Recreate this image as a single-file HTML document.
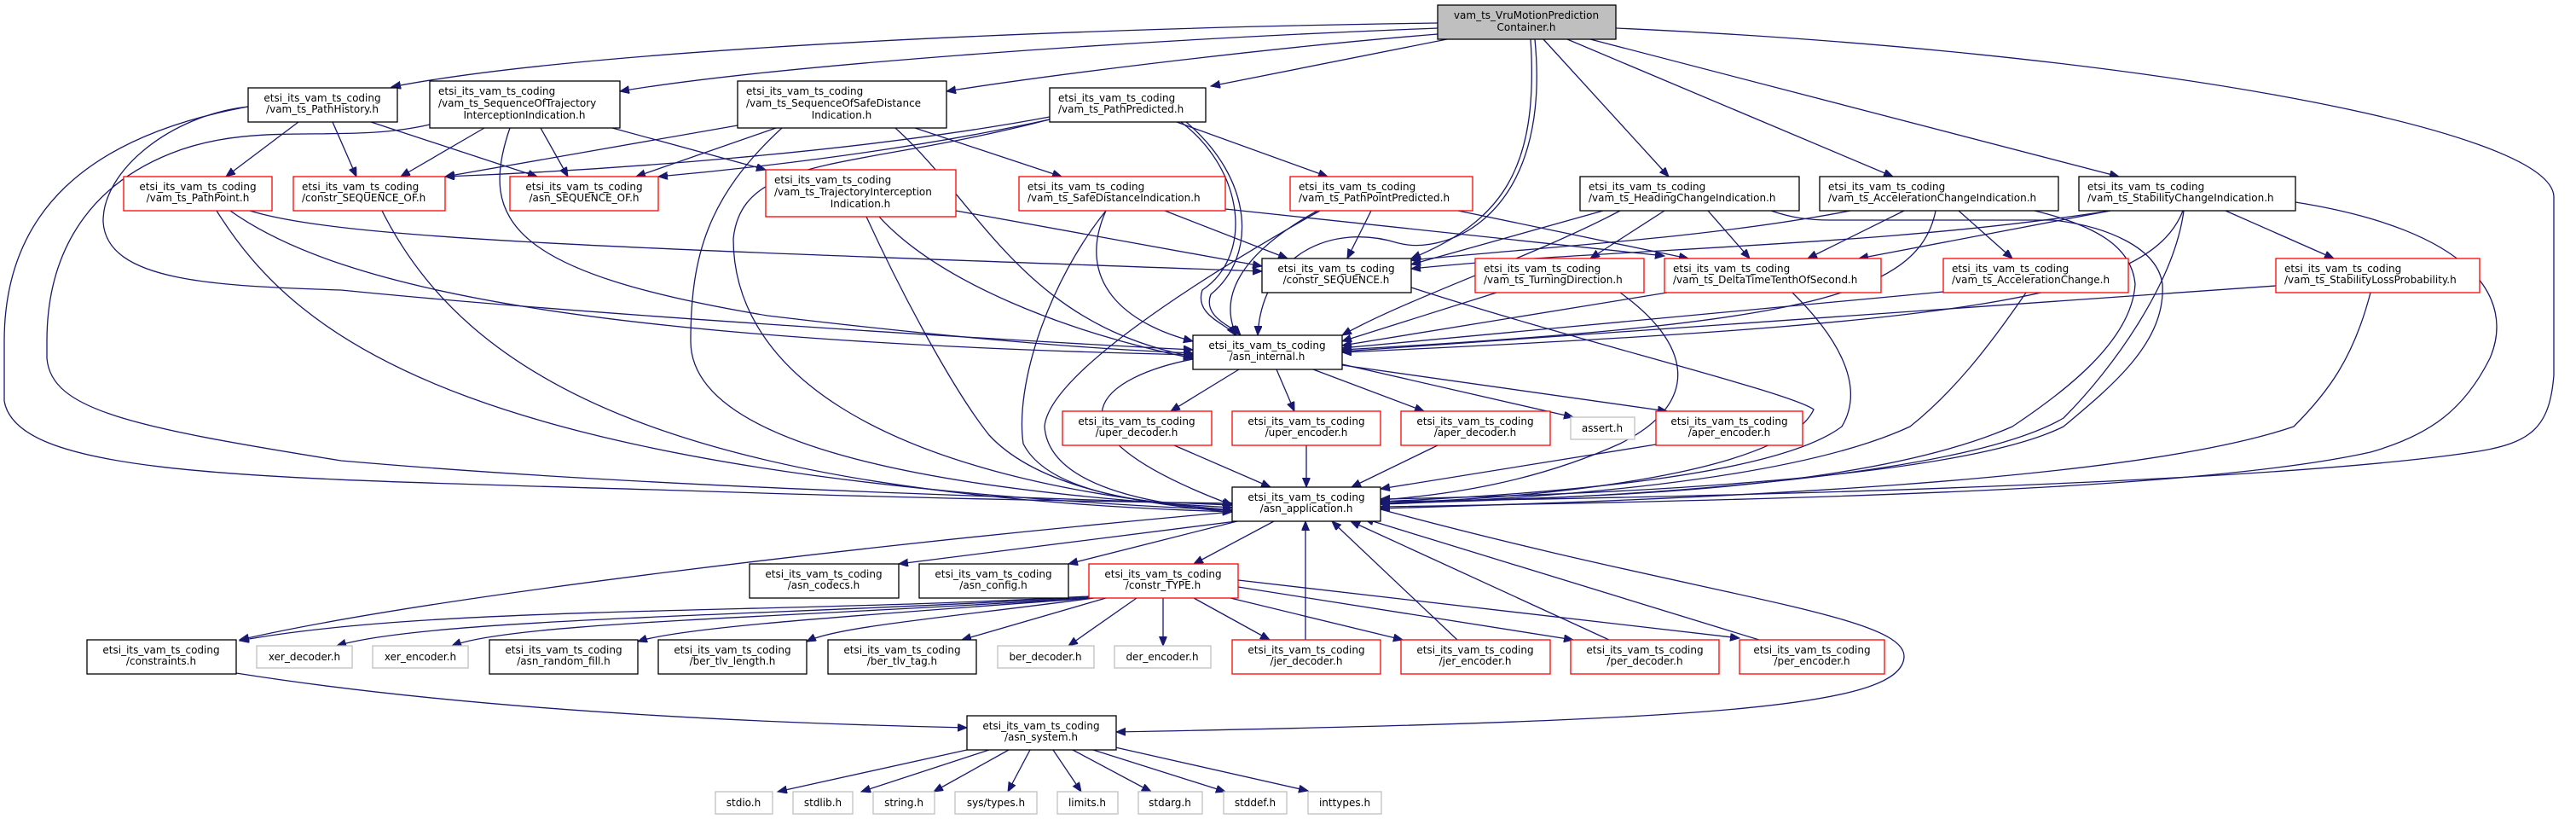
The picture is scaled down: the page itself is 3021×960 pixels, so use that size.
<!DOCTYPE html>
<html><head><meta charset="utf-8"><style>
html,body{margin:0;padding:0;background:#fff}
svg{display:block}
text{font-family:"DejaVu Sans","Liberation Sans",sans-serif;font-size:12px;fill:#000}
.e{fill:none;stroke:#191970;stroke-width:1.3}
.b{fill:#fff;stroke:#000;stroke-width:1.3}
.r{fill:#fff;stroke:#ff0000;stroke-width:1.3}
.g{fill:#fff;stroke:#bfbfbf;stroke-width:1.3}
</style></head><body>
<svg width="3021" height="960" viewBox="0 0 3021 960" xmlns="http://www.w3.org/2000/svg">
<defs><marker id="a" markerWidth="12" markerHeight="10" refX="11" refY="4.5" orient="auto" markerUnits="userSpaceOnUse"><path d="M0,0 L11,4.5 L0,9 z" fill="#191970" stroke="#191970"/></marker></defs>
<g class="e" marker-end="url(#a)">
<!-- root -->
<path d="M1686,27 C1300,32 700,55 459,102"/>
<path d="M1686,33 C1300,48 900,78 727,107"/>
<path d="M1686,40 C1500,55 1250,85 1110,107"/>
<path d="M1697,46 L1420,101"/>
<path d="M1795,46 C1805,200 1760,260 1655,303"/>
<path d="M1800,46 C1820,250 1700,300 1640,285 C1560,260 1480,300 1475,393"/>
<path d="M1810,46 L1957,207"/>
<path d="M1838,46 L2220,207"/>
<path d="M1865,46 L2485,207"/>
<path d="M1895,33 C2500,60 2990,150 2995,230 L2995,440 C2990,500 2970,520 2900,530 C2700,560 2200,580 1619,588"/>
<!-- PathHistory -->
<path d="M350,143 L265,207"/>
<path d="M390,143 L418,207"/>
<path d="M435,143 L630,207"/>
<path d="M291,125 C200,135 120,200 121,260 C125,330 250,335 400,340 C700,370 1200,400 1399,410"/>
<path d="M291,125 C100,160 5,250 5,400 L5,470 C20,560 300,560 800,575 C1100,585 1300,588 1445,590"/>
<!-- SeqOfTraj -->
<path d="M568,150 L470,207"/>
<path d="M634,150 L666,207"/>
<path d="M718,150 L898,199"/>
<path d="M598,150 C560,260 600,320 900,370 C1150,400 1300,410 1399,414"/>
<path d="M504,146 C400,170 300,140 200,180 C100,220 55,300 55,400 L55,420 C60,480 150,500 400,540 C800,575 1300,585 1445,592"/>
<!-- SeqOfSafe -->
<path d="M865,147 L522,207"/>
<path d="M910,150 L746,207"/>
<path d="M1073,150 L1245,207"/>
<path d="M1050,150 C1150,240 1200,380 1399,418"/>
<path d="M917,150 C830,230 810,300 810,400 C810,500 1000,570 1445,595"/>
<!-- PathPredicted -->
<path d="M1231,137 C1000,180 700,200 522,207"/>
<path d="M1231,140 C1050,180 850,200 772,207"/>
<path d="M1380,143 L1557,207"/>
<path d="M1385,143 C1460,200 1470,300 1410,340 C1400,370 1440,380 1449,393"/>
<path d="M1391,143 C1470,210 1475,300 1420,345 C1410,372 1445,382 1455,393"/>
<path d="M1231,140 C1000,200 870,180 860,280 C860,420 1000,560 1445,598"/>
<!-- TrajInterception -->
<path d="M1121,247 L1480,312"/>
<path d="M1031,254 C1100,330 1250,390 1399,420"/>
<path d="M1016,254 C1060,350 1120,460 1160,510 C1220,575 1350,592 1445,600"/>
<!-- PathPoint -->
<path d="M293,247 C400,280 700,290 1480,318"/>
<path d="M270,247 C400,340 700,400 1399,416"/>
<path d="M254,247 C350,400 550,560 1445,598"/>
<!-- constr_SEQUENCE_OF -->
<path d="M448,247 C550,450 800,580 1445,600"/>
<!-- SafeDistance -->
<path d="M1366,247 L1510,303"/>
<path d="M1297,247 C1260,330 1320,380 1399,400"/>
<path d="M1297,247 C1230,330 1190,450 1200,520 C1230,580 1350,590 1445,598"/>
<path d="M1437,245 L1952,300"/>
<!-- PathPointPredicted -->
<path d="M1608,247 L1580,303"/>
<path d="M1545,247 C1450,300 1430,350 1450,393"/>
<path d="M1710,247 L1980,303"/>
<path d="M1548,247 C1400,330 1230,440 1225,500 C1230,570 1350,592 1445,598"/>
<!-- Heading -->
<path d="M1880,247 L1655,310"/>
<path d="M1952,247 L1865,303"/>
<path d="M2003,247 L2052,303"/>
<path d="M1900,247 C1800,300 1650,350 1574,393"/>
<path d="M2077,247 C2100,255 2120,258 2147,258 L2408,258 C2470,265 2530,290 2536,333 C2540,400 2480,450 2420,500 C2300,560 1900,580 1619,585"/>
<!-- AccelCI -->
<path d="M2170,247 C2000,280 1800,290 1655,305"/>
<path d="M2233,247 L2120,303"/>
<path d="M2297,247 L2360,303"/>
<path d="M2270,247 C2250,350 2100,380 1574,410"/>
<path d="M2386,247 C2460,265 2500,290 2504,333 C2500,400 2420,460 2360,500 C2200,570 1900,585 1619,588"/>
<!-- StabilityCI -->
<path d="M2475,247 C2200,290 1900,290 1655,315"/>
<path d="M2475,247 L2180,303"/>
<path d="M2610,247 L2737,303"/>
<path d="M2560,247 C2520,350 2300,380 1574,413"/>
<path d="M2561,247 C2550,330 2480,430 2420,490 C2300,560 1900,585 1619,590"/>
<path d="M2692,237 C2900,270 2950,350 2920,420 C2890,480 2850,510 2780,530 C2600,570 2200,585 1619,594"/>
<!-- row3 -->
<path d="M1655,337 C1850,400 2100,460 2127,480 C2100,540 1900,580 1619,590"/>
<path d="M1755,343 L1574,400"/>
<path d="M1900,343 C1980,400 2000,470 1900,520 C1800,565 1700,580 1619,586"/>
<path d="M1955,343 L1574,405"/>
<path d="M2102,343 C2150,390 2190,450 2160,500 C2080,560 1800,580 1619,588"/>
<path d="M2279,342 L1574,408"/>
<path d="M2376,343 C2330,410 2290,460 2240,500 C2100,565 1800,585 1619,591"/>
<path d="M2669,335 L1574,412"/>
<path d="M2780,343 C2760,420 2730,460 2690,500 C2500,565 2000,585 1619,596"/>
<!-- asn_internal -->
<path d="M1453,433 L1373,482"/>
<path d="M1497,433 L1518,482"/>
<path d="M1540,433 L1670,482"/>
<path d="M1574,427 L1845,489"/>
<path d="M1574,428 L1955,482"/>
<path d="M1399,421 C1300,440 1200,500 1445,592"/>
<!-- row4 to app -->
<path d="M1377,522 L1490,571"/>
<path d="M1532,522 L1532,571"/>
<path d="M1686,522 L1585,571"/>
<path d="M1942,521 L1619,573"/>
<!-- asn_application -->
<path d="M1445,600 C1000,640 500,700 281,750"/>
<path d="M1450,611 L1054,661"/>
<path d="M1451,611 L1253,661"/>
<path d="M1494,611 L1400,661"/>
<path d="M1619,597 C2000,700 2235,720 2233,770 C2230,830 2000,845 1309,858"/>
<!-- constr_TYPE -->
<path d="M1277,699 C900,720 500,710 281,751"/>
<path d="M1277,700 C900,722 500,725 395,757"/>
<path d="M1277,701 C900,725 600,730 530,757"/>
<path d="M1280,701 C1000,722 800,735 748,752"/>
<path d="M1283,701 C1100,725 980,735 946,752"/>
<path d="M1297,701 L1128,750"/>
<path d="M1333,701 L1253,757"/>
<path d="M1364,701 L1364,757"/>
<path d="M1400,701 L1489,750"/>
<path d="M1443,701 L1645,750"/>
<path d="M1452,688 L1845,750"/>
<path d="M1452,680 L2040,748"/>
<path d="M1531,750 L1531,611"/>
<path d="M1709,750 L1562,611"/>
<path d="M1887,750 L1584,611"/>
<path d="M2063,750 L1600,608"/>
<!-- constraints/system -->
<path d="M277,789 C600,840 1000,850 1134,853"/>
<path d="M1134,879 L912,928"/>
<path d="M1160,879 L1010,928"/>
<path d="M1183,879 L1095,928"/>
<path d="M1208,879 L1182,928"/>
<path d="M1235,879 L1268,928"/>
<path d="M1258,879 L1350,928"/>
<path d="M1282,879 L1437,928"/>
<path d="M1308,876 L1534,927"/>
</g>
<!-- nodes -->
<rect x="1686" y="6" width="209" height="40" fill="#bfbfbf" stroke="#000" stroke-width="1.3"/>
<text x="1790" y="22" text-anchor="middle">vam_ts_VruMotionPrediction</text><text x="1790" y="36" text-anchor="middle">Container.h</text>

<rect class="b" x="291" y="103" width="175" height="40"/><text x="378" y="119" text-anchor="middle">etsi_its_vam_ts_coding</text><text x="378" y="132" text-anchor="middle">/vam_ts_PathHistory.h</text>
<rect class="b" x="504" y="95" width="223" height="55"/><text x="514" y="111">etsi_its_vam_ts_coding</text><text x="514" y="125">/vam_ts_SequenceOfTrajectory</text><text x="615" y="139" text-anchor="middle">InterceptionIndication.h</text>
<rect class="b" x="865" y="95" width="245" height="55"/><text x="875" y="111">etsi_its_vam_ts_coding</text><text x="875" y="125">/vam_ts_SequenceOfSafeDistance</text><text x="987" y="139" text-anchor="middle">Indication.h</text>
<rect class="b" x="1231" y="103" width="183" height="40"/><text x="1241" y="119">etsi_its_vam_ts_coding</text><text x="1241" y="132">/vam_ts_PathPredicted.h</text>

<rect class="r" x="145" y="207" width="174" height="40"/><text x="232" y="223" text-anchor="middle">etsi_its_vam_ts_coding</text><text x="232" y="236" text-anchor="middle">/vam_ts_PathPoint.h</text>
<rect class="r" x="344" y="207" width="178" height="40"/><text x="354" y="223">etsi_its_vam_ts_coding</text><text x="354" y="236">/constr_SEQUENCE_OF.h</text>
<rect class="r" x="598" y="207" width="174" height="40"/><text x="685" y="223" text-anchor="middle">etsi_its_vam_ts_coding</text><text x="685" y="236" text-anchor="middle">/asn_SEQUENCE_OF.h</text>
<rect class="r" x="898" y="199" width="223" height="55"/><text x="908" y="215">etsi_its_vam_ts_coding</text><text x="908" y="229">/vam_ts_TrajectoryInterception</text><text x="1009" y="243" text-anchor="middle">Indication.h</text>
<rect class="r" x="1195" y="207" width="242" height="40"/><text x="1205" y="223">etsi_its_vam_ts_coding</text><text x="1205" y="236">/vam_ts_SafeDistanceIndication.h</text>
<rect class="r" x="1513" y="207" width="214" height="40"/><text x="1523" y="223">etsi_its_vam_ts_coding</text><text x="1523" y="236">/vam_ts_PathPointPredicted.h</text>
<rect class="b" x="1853" y="207" width="257" height="40"/><text x="1863" y="223">etsi_its_vam_ts_coding</text><text x="1863" y="236">/vam_ts_HeadingChangeIndication.h</text>
<rect class="b" x="2134" y="207" width="280" height="40"/><text x="2144" y="223">etsi_its_vam_ts_coding</text><text x="2144" y="236">/vam_ts_AccelerationChangeIndication.h</text>
<rect class="b" x="2438" y="207" width="254" height="40"/><text x="2448" y="223">etsi_its_vam_ts_coding</text><text x="2448" y="236">/vam_ts_StabilityChangeIndication.h</text>

<rect class="b" x="1480" y="303" width="175" height="40"/><text x="1567" y="319" text-anchor="middle">etsi_its_vam_ts_coding</text><text x="1567" y="332" text-anchor="middle">/constr_SEQUENCE.h</text>
<rect class="r" x="1730" y="303" width="198" height="40"/><text x="1740" y="319">etsi_its_vam_ts_coding</text><text x="1740" y="332">/vam_ts_TurningDirection.h</text>
<rect class="r" x="1952" y="303" width="254" height="40"/><text x="1962" y="319">etsi_its_vam_ts_coding</text><text x="1962" y="332">/vam_ts_DeltaTimeTenthOfSecond.h</text>
<rect class="r" x="2279" y="303" width="217" height="40"/><text x="2289" y="319">etsi_its_vam_ts_coding</text><text x="2289" y="332">/vam_ts_AccelerationChange.h</text>
<rect class="r" x="2669" y="303" width="239" height="40"/><text x="2679" y="319">etsi_its_vam_ts_coding</text><text x="2679" y="332">/vam_ts_StabilityLossProbability.h</text>

<rect class="b" x="1399" y="393" width="175" height="40"/><text x="1486" y="409" text-anchor="middle">etsi_its_vam_ts_coding</text><text x="1486" y="422" text-anchor="middle">/asn_internal.h</text>

<rect class="r" x="1246" y="482" width="175" height="40"/><text x="1333" y="498" text-anchor="middle">etsi_its_vam_ts_coding</text><text x="1333" y="511" text-anchor="middle">/uper_decoder.h</text>
<rect class="r" x="1445" y="482" width="174" height="40"/><text x="1532" y="498" text-anchor="middle">etsi_its_vam_ts_coding</text><text x="1532" y="511" text-anchor="middle">/uper_encoder.h</text>
<rect class="r" x="1643" y="482" width="175" height="40"/><text x="1730" y="498" text-anchor="middle">etsi_its_vam_ts_coding</text><text x="1730" y="511" text-anchor="middle">/aper_decoder.h</text>
<rect class="g" x="1842" y="489" width="75" height="26"/><text x="1879" y="506" text-anchor="middle">assert.h</text>
<rect class="r" x="1942" y="482" width="172" height="40"/><text x="2028" y="498" text-anchor="middle">etsi_its_vam_ts_coding</text><text x="2028" y="511" text-anchor="middle">/aper_encoder.h</text>

<rect class="b" x="1445" y="571" width="174" height="40"/><text x="1532" y="587" text-anchor="middle">etsi_its_vam_ts_coding</text><text x="1532" y="600" text-anchor="middle">/asn_application.h</text>

<rect class="b" x="879" y="661" width="175" height="40"/><text x="966" y="677" text-anchor="middle">etsi_its_vam_ts_coding</text><text x="966" y="690" text-anchor="middle">/asn_codecs.h</text>
<rect class="b" x="1078" y="661" width="175" height="40"/><text x="1165" y="677" text-anchor="middle">etsi_its_vam_ts_coding</text><text x="1165" y="690" text-anchor="middle">/asn_config.h</text>
<rect class="r" x="1277" y="661" width="175" height="40"/><text x="1364" y="677" text-anchor="middle">etsi_its_vam_ts_coding</text><text x="1364" y="690" text-anchor="middle">/constr_TYPE.h</text>

<rect class="b" x="102" y="750" width="175" height="40"/><text x="189" y="766" text-anchor="middle">etsi_its_vam_ts_coding</text><text x="189" y="779" text-anchor="middle">/constraints.h</text>
<rect class="g" x="301" y="757" width="112" height="26"/><text x="357" y="774" text-anchor="middle">xer_decoder.h</text>
<rect class="g" x="437" y="757" width="112" height="26"/><text x="493" y="774" text-anchor="middle">xer_encoder.h</text>
<rect class="b" x="574" y="750" width="174" height="40"/><text x="661" y="766" text-anchor="middle">etsi_its_vam_ts_coding</text><text x="661" y="779" text-anchor="middle">/asn_random_fill.h</text>
<rect class="b" x="772" y="750" width="174" height="40"/><text x="859" y="766" text-anchor="middle">etsi_its_vam_ts_coding</text><text x="859" y="779" text-anchor="middle">/ber_tlv_length.h</text>
<rect class="b" x="971" y="750" width="174" height="40"/><text x="1058" y="766" text-anchor="middle">etsi_its_vam_ts_coding</text><text x="1058" y="779" text-anchor="middle">/ber_tlv_tag.h</text>
<rect class="g" x="1170" y="757" width="113" height="26"/><text x="1226" y="774" text-anchor="middle">ber_decoder.h</text>
<rect class="g" x="1307" y="757" width="113" height="26"/><text x="1363" y="774" text-anchor="middle">der_encoder.h</text>
<rect class="r" x="1445" y="750" width="174" height="40"/><text x="1532" y="766" text-anchor="middle">etsi_its_vam_ts_coding</text><text x="1532" y="779" text-anchor="middle">/jer_decoder.h</text>
<rect class="r" x="1643" y="750" width="175" height="40"/><text x="1730" y="766" text-anchor="middle">etsi_its_vam_ts_coding</text><text x="1730" y="779" text-anchor="middle">/jer_encoder.h</text>
<rect class="r" x="1842" y="750" width="174" height="40"/><text x="1929" y="766" text-anchor="middle">etsi_its_vam_ts_coding</text><text x="1929" y="779" text-anchor="middle">/per_decoder.h</text>
<rect class="r" x="2040" y="750" width="170" height="40"/><text x="2125" y="766" text-anchor="middle">etsi_its_vam_ts_coding</text><text x="2125" y="779" text-anchor="middle">/per_encoder.h</text>

<rect class="b" x="1134" y="839" width="175" height="40"/><text x="1221" y="855" text-anchor="middle">etsi_its_vam_ts_coding</text><text x="1221" y="868" text-anchor="middle">/asn_system.h</text>

<rect class="g" x="839" y="928" width="67" height="26"/><text x="872" y="945" text-anchor="middle">stdio.h</text>
<rect class="g" x="930" y="928" width="70" height="26"/><text x="965" y="945" text-anchor="middle">stdlib.h</text>
<rect class="g" x="1024" y="928" width="72" height="26"/><text x="1060" y="945" text-anchor="middle">string.h</text>
<rect class="g" x="1120" y="928" width="96" height="26"/><text x="1168" y="945" text-anchor="middle">sys/types.h</text>
<rect class="g" x="1240" y="928" width="71" height="26"/><text x="1275" y="945" text-anchor="middle">limits.h</text>
<rect class="g" x="1335" y="928" width="75" height="26"/><text x="1372" y="945" text-anchor="middle">stdarg.h</text>
<rect class="g" x="1435" y="928" width="74" height="26"/><text x="1472" y="945" text-anchor="middle">stddef.h</text>
<rect class="g" x="1534" y="928" width="86" height="26"/><text x="1577" y="945" text-anchor="middle">inttypes.h</text>
</svg>
</body></html>
